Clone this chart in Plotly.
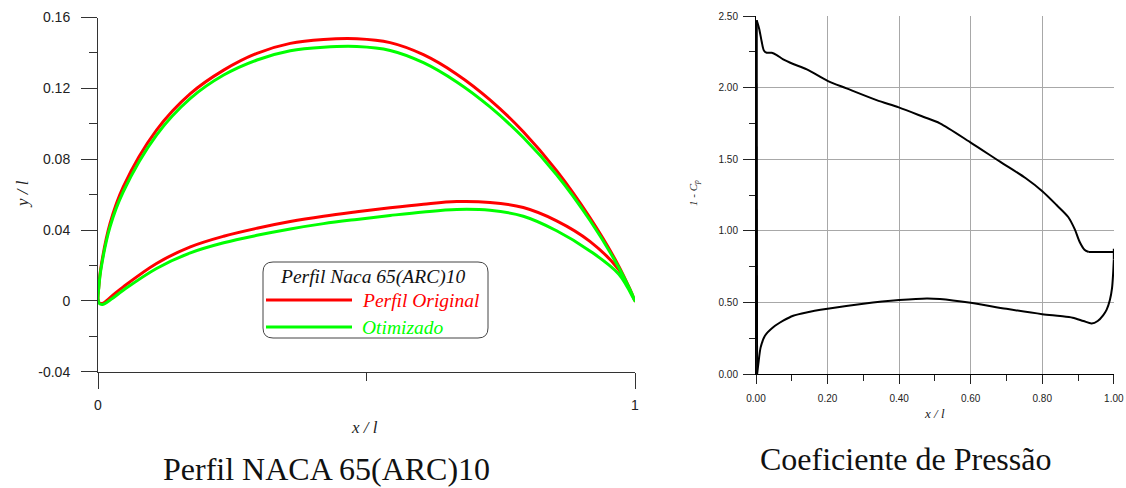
import plotly.graph_objects as go

W, H = 1126, 488

# ---------------- NACA 65(ARC)10 profile (x/l, y/l) ----------------
upper_x = [0.0, 0.0015, 0.005, 0.0224, 0.047, 0.109, 0.172, 0.234, 0.296, 0.358,
           0.420, 0.482, 0.544, 0.606, 0.668, 0.730, 0.792, 0.854, 0.916, 0.970, 1.0]
orig_upper_y = [0.001, 0.008, 0.018, 0.0437, 0.0644, 0.0964, 0.1170, 0.1303, 0.1398, 0.1454,
                0.1476, 0.1480, 0.1458, 0.1390, 0.1280, 0.1135, 0.0955, 0.0735, 0.0470, 0.0195, 0.0]
opt_upper_y = [0.001, 0.0075, 0.017, 0.0418, 0.0616, 0.0936, 0.1143, 0.1275, 0.1360, 0.1412,
               0.1432, 0.1436, 0.1414, 0.1345, 0.1236, 0.1095, 0.0922, 0.0712, 0.0455, 0.0187, 0.0]

lower_x = [0.0, 0.002, 0.008, 0.025, 0.047, 0.109, 0.172, 0.234, 0.296, 0.358,
           0.420, 0.482, 0.544, 0.606, 0.668, 0.730, 0.792, 0.854, 0.916, 0.970, 1.0]
orig_lower_y = [0.001, -0.001, -0.0015, 0.0025, 0.0079, 0.0211, 0.0305, 0.0365, 0.0410, 0.0448,
                0.0478, 0.0503, 0.0526, 0.0546, 0.0561, 0.0556, 0.0527, 0.0452, 0.0336, 0.0175, 0.0]
opt_lower_y = [0.001, -0.0013, -0.0020, 0.0010, 0.0060, 0.0183, 0.0271, 0.0328, 0.0370, 0.0406,
               0.0436, 0.0460, 0.0482, 0.0502, 0.0516, 0.0511, 0.0478, 0.0396, 0.0282, 0.0150, 0.0]

# ---------------- pressure coefficient distribution (1 - Cp) ----------------
cp_upper_x = [0.002, 0.009, 0.016, 0.022, 0.030, 0.044, 0.058, 0.076, 0.104, 0.142,
              0.200, 0.253, 0.337, 0.399, 0.467, 0.514, 0.598, 0.682, 0.754, 0.801,
              0.840, 0.873, 0.891, 0.905, 0.918, 0.930]
cp_upper = [2.47, 2.41, 2.32, 2.26, 2.244, 2.244, 2.228, 2.197, 2.165, 2.128,
            2.048, 1.995, 1.913, 1.862, 1.797, 1.751, 1.620, 1.483, 1.367, 1.275,
            1.180, 1.095, 1.010, 0.920, 0.868, 0.852]
cp_te_x = [0.930, 1.0, 1.0, 1.0]
cp_te = [0.852, 0.852, 0.875, 0.80]
cp_lower_x = [1.0, 0.998, 0.995, 0.989, 0.980, 0.970, 0.955, 0.938, 0.915, 0.885,
              0.850, 0.800, 0.700, 0.600, 0.514, 0.477, 0.400, 0.300, 0.200, 0.141,
              0.104, 0.076, 0.048, 0.025, 0.013, 0.0065, 0.003]
cp_lower = [0.80, 0.70, 0.60, 0.517, 0.450, 0.410, 0.370, 0.353, 0.370, 0.393,
            0.405, 0.418, 0.455, 0.497, 0.524, 0.528, 0.516, 0.490, 0.455, 0.430,
            0.407, 0.372, 0.326, 0.267, 0.186, 0.070, 0.0]
cp_le_x = [0.003, 0.002]
cp_le = [0.0, 2.47]

RED = "#ff0000"
GREEN = "#00ff00"
SERIF = "Liberation Serif"
SANS = "Liberation Sans"


def px(x):
    return x / W


def py(y):
    return 1 - y / H


def closed(ux, uy, lx, ly):
    xs = list(reversed(ux)) + lx[1:]
    ys = list(reversed(uy)) + ly[1:]
    return xs, ys


fig = go.Figure()

ox, oy = closed(upper_x, orig_upper_y, lower_x, orig_lower_y)
gx, gy = closed(upper_x, opt_upper_y, lower_x, opt_lower_y)
fig.add_trace(go.Scatter(x=ox, y=oy, mode="lines", xaxis="x", yaxis="y",
                         line=dict(color=RED, width=3, shape="spline", smoothing=1.0)))
fig.add_trace(go.Scatter(x=gx, y=gy, mode="lines", xaxis="x", yaxis="y",
                         line=dict(color=GREEN, width=3, shape="spline", smoothing=1.0)))

for xs, ys, shape in [(cp_upper_x, cp_upper, "spline"), (cp_te_x, cp_te, "linear"),
                      (cp_lower_x, cp_lower, "spline"), (cp_le_x, cp_le, "linear")]:
    fig.add_trace(go.Scatter(x=xs, y=ys, mode="lines", xaxis="x2", yaxis="y2",
                             line=dict(color="#000000", width=2, shape=shape, smoothing=0.8)))

fig.update_layout(
    width=W, height=H, margin=dict(l=0, r=0, t=0, b=0, autoexpand=False),
    paper_bgcolor="white", plot_bgcolor="white", showlegend=False,
    xaxis=dict(domain=[px(98), px(635)], range=[0, 1], anchor="y", automargin=False,
               showline=True, linecolor="#333", linewidth=1, showgrid=False, zeroline=False,
               ticks="outside", ticklen=16, tickcolor="#333", dtick=1, tick0=0,
               minor=dict(dtick=0.5, ticks="outside", ticklen=8, tickcolor="#333"),
               tickfont=dict(family=SANS, size=14, color="#222"), ticklabelstandoff=4),
    yaxis=dict(domain=[py(371.7), py(17.5)], range=[-0.04, 0.16], anchor="x", automargin=False,
               showline=True, linecolor="#333", linewidth=1, showgrid=False, zeroline=False,
               ticks="outside", ticklen=16, tickcolor="#333",
               tickvals=[-0.04, 0, 0.04, 0.08, 0.12, 0.16],
               ticktext=["-0.04", "0", "0.04", "0.08", "0.12", "0.16"],
               minor=dict(dtick=0.02, tick0=0, ticks="outside", ticklen=8, tickcolor="#333"),
               tickfont=dict(family=SANS, size=14, color="#222"), ticklabelstandoff=8),
    xaxis2=dict(domain=[px(756), px(1114)], range=[0, 1.0005], anchor="y2", automargin=False,
                showline=True, linecolor="#000", linewidth=1, zeroline=False,
                showgrid=True, gridcolor="#a8a8a8", gridwidth=1.3,
                ticks="outside", ticklen=9, tickcolor="#222", dtick=0.2, tick0=0,
                tickformat=".2f",
                minor=dict(dtick=0.1, ticks="outside", ticklen=6, tickcolor="#222", showgrid=False),
                tickfont=dict(family=SANS, size=10, color="#222"), ticklabelstandoff=6),
    yaxis2=dict(domain=[py(374), py(16)], range=[0, 2.5005], anchor="x2", automargin=False,
                showline=True, linecolor="#000", linewidth=1, zeroline=False,
                showgrid=True, gridcolor="#a8a8a8", gridwidth=1.3,
                ticks="outside", ticklen=12, tickcolor="#222", dtick=0.5, tick0=0,
                tickformat=".2f",
                minor=dict(dtick=0.25, ticks="outside", ticklen=6, tickcolor="#222", showgrid=False),
                tickfont=dict(family=SANS, size=10, color="#222"), ticklabelstandoff=3),
)

annotations = [
    dict(x=px(23), y=py(194), text="<i>y / l</i>", textangle=-90,
         font=dict(family=SERIF, size=17, color="#222")),
    dict(x=px(364), y=py(427), text="<i>x / l</i>",
         font=dict(family=SERIF, size=17, color="#222")),
    dict(x=px(326), y=py(469), text="Perfil NACA 65(ARC)10",
         font=dict(family=SERIF, size=32, color="#111")),
    dict(x=px(694), y=py(193), text="<i>1 - C<sub>p</sub></i>", textangle=-90,
         font=dict(family=SERIF, size=11, color="#222")),
    dict(x=px(934), y=py(413), text="<i>x / l</i>",
         font=dict(family=SERIF, size=13, color="#222")),
    dict(x=px(905), y=py(459), text="Coeficiente de Pressão",
         font=dict(family=SERIF, size=32, color="#111")),
    # legend texts
    dict(x=px(372), y=py(277), text="<i>Perfil Naca 65(ARC)10</i>",
         font=dict(family=SERIF, size=19.5, color="#111")),
    dict(x=px(360), y=py(300), text="<i>Perfil Original</i>", xanchor="left",
         font=dict(family=SERIF, size=19.5, color=RED)),
    dict(x=px(360), y=py(327), text="<i>Otimizado</i>", xanchor="left",
         font=dict(family=SERIF, size=19.5, color=GREEN)),
]
for a in annotations:
    a.setdefault("xanchor", "center")
    a.update(xref="paper", yref="paper", yanchor="middle", showarrow=False)
fig.update_layout(annotations=annotations)

# legend frame with rounded corners
x0, x1, y0, y1, r = 263, 488, 262, 338, 10
path = (f"M {px(x0 + r)} {py(y0)} L {px(x1 - r)} {py(y0)} Q {px(x1)} {py(y0)} {px(x1)} {py(y0 + r)} "
        f"L {px(x1)} {py(y1 - r)} Q {px(x1)} {py(y1)} {px(x1 - r)} {py(y1)} "
        f"L {px(x0 + r)} {py(y1)} Q {px(x0)} {py(y1)} {px(x0)} {py(y1 - r)} "
        f"L {px(x0)} {py(y0 + r)} Q {px(x0)} {py(y0)} {px(x0 + r)} {py(y0)} Z")
fig.add_shape(type="path", path=path, xref="paper", yref="paper",
              line=dict(color="#444", width=1), fillcolor="white", layer="above")
fig.add_shape(type="line", xref="paper", yref="paper", x0=px(266), x1=px(352), y0=py(300), y1=py(300),
              line=dict(color=RED, width=3))
fig.add_shape(type="line", xref="paper", yref="paper", x0=px(266), x1=px(352), y0=py(327), y1=py(327),
              line=dict(color=GREEN, width=3))

fig.write_html("out.html")
